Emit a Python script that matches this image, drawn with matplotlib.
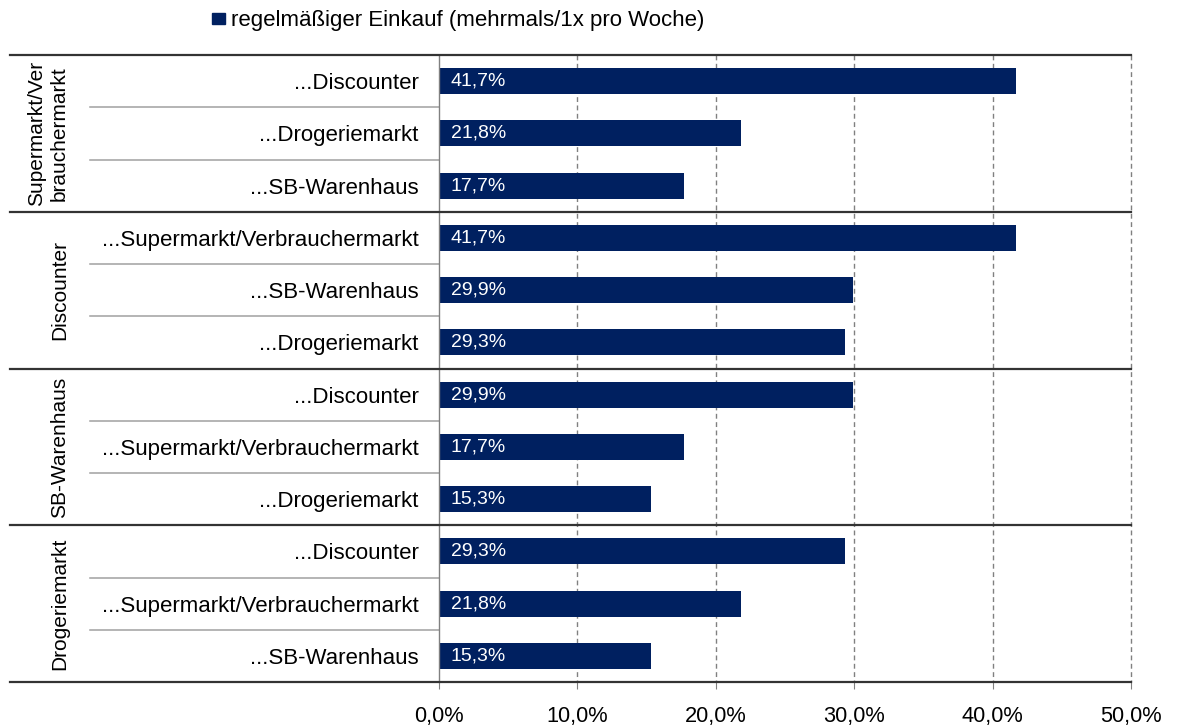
import matplotlib
matplotlib.use("Agg")
import matplotlib.pyplot as plt
from matplotlib.patches import Rectangle

plt.rcParams['font.family'] = ['Liberation Sans', 'DejaVu Sans']

# --- data ---
groups = ["Supermarkt/Ver\nbrauchermarkt", "Discounter", "SB-Warenhaus", "Drogeriemarkt"]
labels = [
    ["...Discounter", "...Drogeriemarkt", "...SB-Warenhaus"],
    ["...Supermarkt/Verbrauchermarkt", "...SB-Warenhaus", "...Drogeriemarkt"],
    ["...Discounter", "...Supermarkt/Verbrauchermarkt", "...Drogeriemarkt"],
    ["...Discounter", "...Supermarkt/Verbrauchermarkt", "...SB-Warenhaus"],
]
values = [
    [41.7, 21.8, 17.7],
    [41.7, 29.9, 29.3],
    [29.9, 17.7, 15.3],
    [29.3, 21.8, 15.3],
]
legend_label = "regelmäßiger Einkauf (mehrmals/1x pro Woche)"
xticks = [0, 10, 20, 30, 40, 50]

NAVY = '#002060'
W, H = 1182, 727

fig = plt.figure(figsize=(W / 100, H / 100), dpi=100)
ax = fig.add_axes([439 / W, 1 - 682 / H, 692 / W, 627 / H])

flat_labels = [l for g in labels for l in g]
flat_values = [v for g in values for v in g]
ypos = list(range(len(flat_values)))

ax.barh(ypos, flat_values, height=0.5, color=NAVY, zorder=3)
for y, v in zip(ypos, flat_values):
    ax.annotate(f"{v:.1f}".replace('.', ',') + '%', (0, y), xytext=(8.3, 0),
                textcoords='offset points', color='white', fontsize=14,
                va='center', ha='left', zorder=4)

ax.set_xlim(0, 50)
ax.set_ylim(len(flat_values) - 0.5, -0.5)
ax.set_xticks(xticks)
ax.set_xticklabels([f"{t:.1f}".replace('.', ',') + '%' for t in xticks], fontsize=15.7)
ax.set_yticks(ypos)
ax.set_yticklabels(flat_labels, fontsize=16)
ax.tick_params(axis='y', length=0, pad=14.5)
ax.tick_params(axis='x', length=5, color='#808080', pad=12)

# dashed gridlines (drawn unclipped so the 50% line is complete)
ax.vlines(xticks[1:], -0.5, len(flat_values) - 0.5, colors='#808080',
          linestyles=(0, (3.5, 2.5)), linewidth=1, zorder=1, clip_on=False)
for s in ['top', 'bottom', 'right']:
    ax.spines[s].set_visible(False)
ax.spines['left'].set_color('#808080')
ax.spines['left'].set_linewidth(1)
ax.spines['left'].set_zorder(5)

# group separators and frame lines
tr = ax.get_yaxis_transform()
x_far = (10 - 439) / 692
x_row = (90 - 439) / 692
n_per = len(labels[0])
for k in range(len(groups) + 1):
    yy = k * n_per - 0.5
    ax.plot([x_far, 1], [yy, yy], color='#333333', lw=1.6, transform=tr, clip_on=False, zorder=6)
for k in range(len(groups)):
    for j in range(1, n_per):
        yy = k * n_per + j - 0.5
        ax.plot([x_row, 0], [yy, yy], color='#a0a0a0', lw=1.1, transform=tr, clip_on=False)
    ax.text((69 - 439) / 692, k * n_per + (n_per - 1) / 2, groups[k], rotation=90,
            ha='right', va='center', multialignment='center', fontsize=15,
            transform=tr, linespacing=1.25)

# legend
fig.patches.append(Rectangle((212 / W, 1 - 24 / H), 13 / W, 11 / H,
                             transform=fig.transFigure, color=NAVY))
fig.text(231 / W, 1 - 26 / H, legend_label, va='baseline', ha='left', fontsize=16)

fig.savefig("out.png", dpi=100)
